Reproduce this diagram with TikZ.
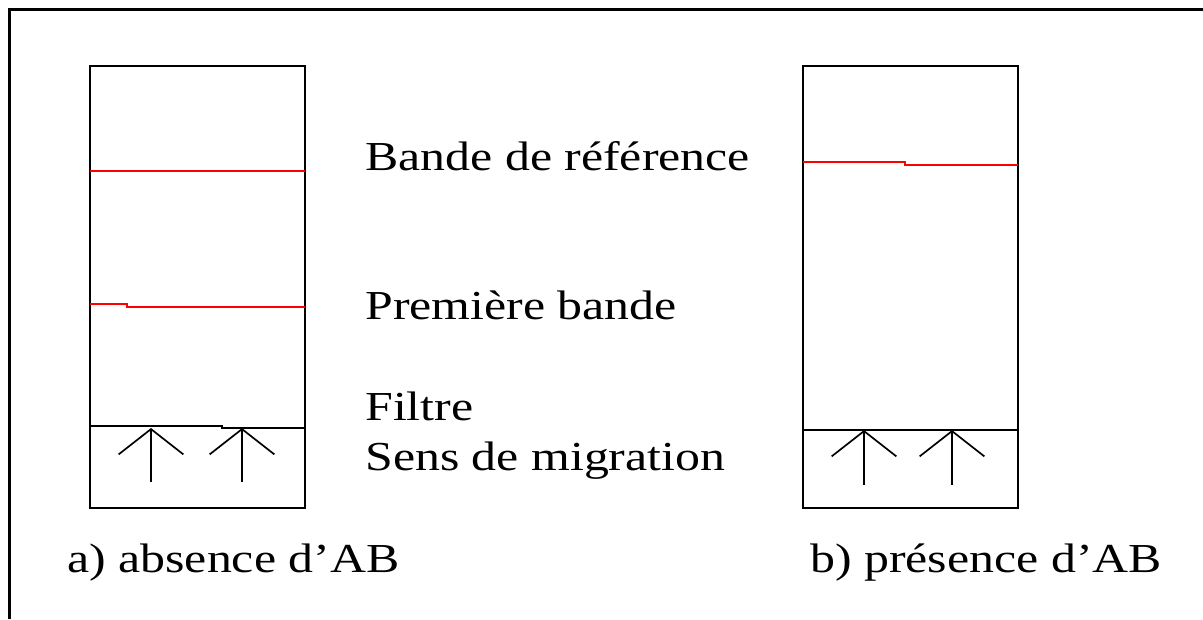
\documentclass[tikz,border=0pt]{standalone}
\usepackage{fontspec}
\setmainfont[FakeStretch=1.21]{Liberation Serif}
\usetikzlibrary{arrows.meta}
\tikzset{
  tube/.style={line width=1.3pt},
  band/.style={red, line width=1.3pt},
  flow/.style={line width=1.2pt, -{Straight Barb[length=18pt, width=46pt]}},
  lbl/.style={anchor=base west, inner sep=0pt, font=\fontsize{29.3pt}{35pt}\selectfont},
}
\begin{document}
\begin{tikzpicture}[x=0.025cm, y=-0.025cm]
\useasboundingbox (0,0) rectangle (1203,619);
% frame
\draw[line width=2.4pt] (9.5,619) -- (9.5,9.5) -- (1203,9.5);
% tube a)
\draw[tube] (90,66) rectangle (305,508);
\draw[band] (90,171) -- (305,171);
\draw[band] (90,304) -- (127,304) -- (127,307) -- (305,307);
\draw[tube] (90,426) -- (222,426) -- (222,428) -- (305,428);
\coordinate (a1) at (151,482); \coordinate (a1t) at (151,428);
\coordinate (a2) at (242,482); \coordinate (a2t) at (242,428);
\draw[flow] (a1) -- (a1t);
\draw[flow] (a2) -- (a2t);
% tube b)
\draw[tube] (803,66) rectangle (1018,508);
\draw[band] (803,162) -- (905,162) -- (905,165) -- (1018,165);
\draw[tube] (803,430) -- (1018,430);
\coordinate (b1) at (864,485); \coordinate (b1t) at (864,430);
\coordinate (b2) at (952,485); \coordinate (b2t) at (952,430);
\draw[flow] (b1) -- (b1t);
\draw[flow] (b2) -- (b2t);
% labels
\node[lbl] (ref) at (365,170) {Bande de référence};
\node[lbl] (first) at (365,319) {Première bande};
\node[lbl] (filter) at (365,420) {Filtre};
\node[lbl] (sens) at (365,470) {Sens de migration};
\node[lbl] (capA) at (67,572) {a) absence d’AB};
\node[lbl] (capB) at (810,572) {b) présence d’AB};
\end{tikzpicture}
\end{document}
